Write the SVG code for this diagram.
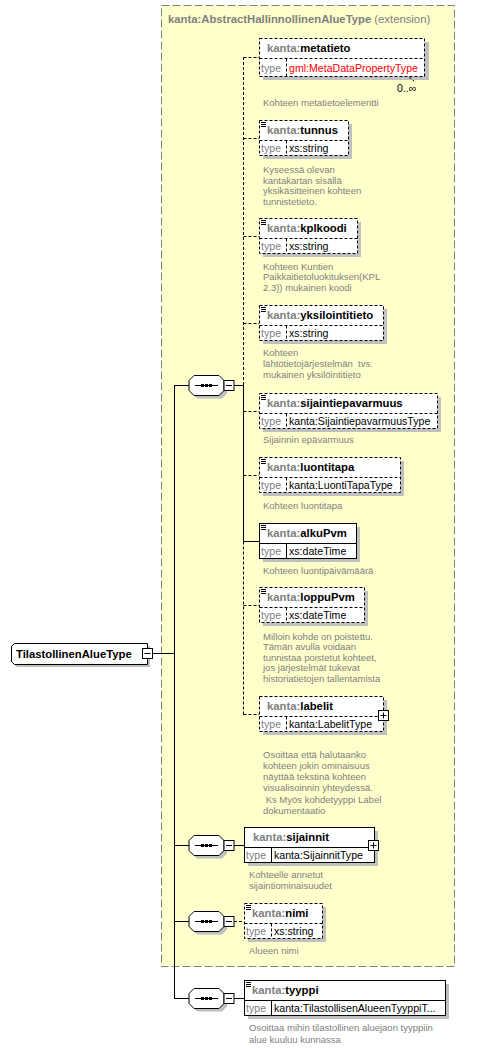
<svg xmlns="http://www.w3.org/2000/svg" width="480" height="1049" viewBox="0 0 480 1049">
<style>
.bg{fill:#fff}
.ext{fill:#FFFFCC;stroke:#808080;stroke-width:1;stroke-dasharray:8,3}
.box{fill:#fff;stroke:#000;stroke-width:1}
.opt{stroke-dasharray:3,2}
.sh{fill:#C0C0C0}
.ln{stroke:#000;stroke-width:1;fill:none}
.dash{stroke-dasharray:3,2}
.nm{font-family:"Liberation Sans",Arial,sans-serif;font-size:11.3px;font-weight:bold;fill:#000}
.ns{fill:#808080}
.ty{font-family:"Liberation Sans",Arial,sans-serif;font-size:10.6px;fill:#000}
.tl{fill:#808080}
.red{fill:#FF0000}
.ds{font-family:"Liberation Sans",Arial,sans-serif;font-size:9.5px;fill:#808080}
.ttl{font-family:"Liberation Sans",Arial,sans-serif;font-size:11.3px;fill:#808080}
</style>
<defs>
<g id="seq">
<polygon class="sh" points="8,3 33,3 38,8 38,18 33,23 8,23 3,18 3,8"/>
<polygon class="box" points="5,0 30,0 35,5 35,15 30,20 5,20 0,15 0,5"/>
<line class="ln" x1="6" y1="10" x2="29" y2="10"/>
<rect x="12" y="8.5" width="3" height="3" fill="#000"/>
<rect x="16" y="8.5" width="3" height="3" fill="#000"/>
<rect x="20" y="8.5" width="3" height="3" fill="#000"/>
<rect class="box" x="35" y="5" width="10" height="10"/>
<line class="ln" x1="37" y1="10" x2="43" y2="10"/>
</g>
<g id="doc">
<line class="ln" x1="0" y1="0.5" x2="5" y2="0.5"/>
<line class="ln" x1="0" y1="2.5" x2="5" y2="2.5"/>
<line class="ln" x1="0" y1="4.5" x2="5" y2="4.5"/>
</g>
<g id="plus">
<rect class="box" x="-5" y="0" width="10" height="10"/>
<line class="ln" x1="-3" y1="5" x2="3" y2="5"/>
<line class="ln" x1="0" y1="2" x2="0" y2="8"/>
</g>
</defs>
<rect class="bg" x="0" y="0" width="480" height="1049"/>

<g id="extension">
<rect class="ext" x="161.5" y="5.5" width="293" height="961"/>
<text class="ttl" x="168" y="23"><tspan font-weight="bold">kanta:AbstractHallinnollinenAlueType</tspan> (extension)</text>
</g>

<g id="connectors">
<line class="ln" x1="152" y1="653.5" x2="174.5" y2="653.5"/>
<line class="ln" x1="174.5" y1="385" x2="174.5" y2="998.5"/>
<line class="ln" x1="174" y1="385.5" x2="189" y2="385.5"/>
<line class="ln" x1="174" y1="845.5" x2="189" y2="845.5"/>
<line class="ln" x1="174" y1="921.5" x2="189" y2="921.5"/>
<line class="ln" x1="174" y1="998.5" x2="189" y2="998.5"/>
<line class="ln" x1="234" y1="385.5" x2="243.5" y2="385.5"/>
<line class="ln dash" x1="243.5" y1="57" x2="243.5" y2="385"/>
<line class="ln" x1="243.5" y1="385" x2="243.5" y2="541.5"/>
<line class="ln dash" x1="243.5" y1="541.5" x2="243.5" y2="714.5"/>
<line class="ln dash" x1="243.5" y1="57.5" x2="259" y2="57.5"/>
<line class="ln dash" x1="243.5" y1="138.5" x2="259" y2="138.5"/>
<line class="ln dash" x1="243.5" y1="236.5" x2="259" y2="236.5"/>
<line class="ln dash" x1="243.5" y1="323.5" x2="259" y2="323.5"/>
<line class="ln dash" x1="243.5" y1="411.5" x2="259" y2="411.5"/>
<line class="ln dash" x1="243.5" y1="475.5" x2="259" y2="475.5"/>
<line class="ln" x1="243.5" y1="541.5" x2="259" y2="541.5"/>
<line class="ln dash" x1="243.5" y1="605.5" x2="259" y2="605.5"/>
<line class="ln dash" x1="243.5" y1="714.5" x2="259" y2="714.5"/>
<line class="ln" x1="234" y1="845.5" x2="244" y2="845.5"/>
<line class="ln dash" x1="234" y1="921.5" x2="244" y2="921.5"/>
<line class="ln" x1="234" y1="998.5" x2="244" y2="998.5"/>
</g>

<g id="root">
<polygon class="sh" points="17,646 150,646 150,667 17,667 14,664 14,649"/>
<polygon class="box" points="14.5,643.5 147.5,643.5 147.5,664.5 14.5,664.5 11.5,661.5 11.5,646.5"/>
<text class="nm" x="16" y="658" font-size="11.5px">TilastollinenAlueType</text>
<rect class="box" x="142.5" y="648.5" width="10" height="10"/>
<line class="ln" x1="144.5" y1="653.5" x2="150.5" y2="653.5"/>
</g>

<g id="seq1"><use href="#seq" x="189" y="375.5"/></g>
<g id="seq2"><use href="#seq" x="189" y="835.5"/></g>
<g id="seq3"><use href="#seq" x="189" y="911.5"/></g>
<g id="seq4"><use href="#seq" x="189" y="988.5"/></g>

<g id="metatieto">
<rect class="sh" x="263" y="42" width="166" height="38"/>
<rect class="box opt" x="259.5" y="38.5" width="165" height="38"/>
<line class="ln opt" x1="259.5" y1="58.5" x2="424.5" y2="58.5"/>
<line class="ln opt" x1="286.5" y1="58.5" x2="286.5" y2="76.5"/>
<line class="ln opt" x1="409" y1="77" x2="414" y2="81"/>
<text class="nm" x="267" y="52"><tspan class="ns">kanta:</tspan>metatieto</text>
<text class="ty" x="261" y="72"><tspan class="tl">type</tspan></text>
<text class="ty red" x="289" y="72">gml:MetaDataPropertyType</text>
<text class="ty" x="397" y="92">0..∞</text>
<text class="ds" x="263" y="106">Kohteen metatietoelementti</text>
</g>

<g id="tunnus">
<rect class="sh" x="263" y="124" width="89" height="35"/>
<rect class="box opt" x="259.5" y="120.5" width="89" height="35"/>
<line class="ln opt" x1="259.5" y1="140.5" x2="348.5" y2="140.5"/>
<line class="ln opt" x1="286.5" y1="140.5" x2="286.5" y2="155.5"/>
<use href="#doc" x="261" y="122"/>
<text class="nm" x="267" y="134"><tspan class="ns">kanta:</tspan>tunnus</text>
<text class="ty" x="261" y="152"><tspan class="tl">type</tspan></text>
<text class="ty" x="289" y="152">xs:string</text>
<text class="ds" x="263" y="173">Kyseessä olevan</text>
<text class="ds" x="263" y="183.5">kantakartan sisällä</text>
<text class="ds" x="263" y="194">yksikäsitteinen kohteen</text>
<text class="ds" x="263" y="204.5">tunnistetieto.</text>
</g>

<g id="kplkoodi">
<rect class="sh" x="263" y="222" width="98" height="35"/>
<rect class="box opt" x="259.5" y="218.5" width="98" height="35"/>
<line class="ln opt" x1="259.5" y1="238.5" x2="357.5" y2="238.5"/>
<line class="ln opt" x1="286.5" y1="238.5" x2="286.5" y2="253.5"/>
<use href="#doc" x="261" y="220"/>
<text class="nm" x="267" y="232"><tspan class="ns">kanta:</tspan>kplkoodi</text>
<text class="ty" x="261" y="250"><tspan class="tl">type</tspan></text>
<text class="ty" x="289" y="250">xs:string</text>
<text class="ds" x="263" y="269.5">Kohteen Kuntien</text>
<text class="ds" x="263" y="280">Paikkaitietoluokituksen(KPL</text>
<text class="ds" x="263" y="290.5">2.3)) mukainen koodi</text>
</g>

<g id="yksilointitieto">
<rect class="sh" x="263" y="309" width="124" height="35"/>
<rect class="box opt" x="259.5" y="305.5" width="124" height="35"/>
<line class="ln opt" x1="259.5" y1="325.5" x2="383.5" y2="325.5"/>
<line class="ln opt" x1="286.5" y1="325.5" x2="286.5" y2="340.5"/>
<use href="#doc" x="261" y="307"/>
<text class="nm" x="267" y="319"><tspan class="ns">kanta:</tspan>yksilointitieto</text>
<text class="ty" x="261" y="337"><tspan class="tl">type</tspan></text>
<text class="ty" x="289" y="337">xs:string</text>
<text class="ds" x="263" y="356">Kohteen</text>
<text class="ds" x="263" y="367" xml:space="preserve">lähtötietojärjestelmän  tvs.</text>
<text class="ds" x="263" y="378">mukainen yksilöintitieto</text>
</g>

<g id="sijaintiepavarmuus">
<rect class="sh" x="263" y="397" width="178" height="35"/>
<rect class="box opt" x="259.5" y="393.5" width="178" height="35"/>
<line class="ln opt" x1="259.5" y1="413.5" x2="437.5" y2="413.5"/>
<line class="ln opt" x1="286.5" y1="413.5" x2="286.5" y2="428.5"/>
<use href="#doc" x="261" y="395"/>
<text class="nm" x="267" y="407"><tspan class="ns">kanta:</tspan>sijaintiepavarmuus</text>
<text class="ty" x="261" y="425"><tspan class="tl">type</tspan></text>
<text class="ty" x="289" y="425">kanta:SijaintiepavarmuusType</text>
<text class="ds" x="263" y="443">Sijainnin epävarmuus</text>
</g>

<g id="luontitapa">
<rect class="sh" x="263" y="461" width="141" height="35"/>
<rect class="box opt" x="259.5" y="457.5" width="141" height="35"/>
<line class="ln opt" x1="259.5" y1="477.5" x2="400.5" y2="477.5"/>
<line class="ln opt" x1="286.5" y1="477.5" x2="286.5" y2="492.5"/>
<use href="#doc" x="261" y="459"/>
<text class="nm" x="267" y="471"><tspan class="ns">kanta:</tspan>luontitapa</text>
<text class="ty" x="261" y="489"><tspan class="tl">type</tspan></text>
<text class="ty" x="289" y="489">kanta:LuontiTapaType</text>
<text class="ds" x="263" y="508.5">Kohteen luontitapa</text>
</g>

<g id="alkuPvm">
<rect class="sh" x="263" y="527" width="97" height="35"/>
<rect class="box" x="259.5" y="523.5" width="97" height="35"/>
<line class="ln" x1="259.5" y1="543.5" x2="356.5" y2="543.5"/>
<line class="ln" x1="286.5" y1="543.5" x2="286.5" y2="558.5"/>
<use href="#doc" x="261" y="525"/>
<text class="nm" x="267" y="537"><tspan class="ns">kanta:</tspan>alkuPvm</text>
<text class="ty" x="261" y="555"><tspan class="tl">type</tspan></text>
<text class="ty" x="289" y="555">xs:dateTime</text>
<text class="ds" x="263" y="573.5">Kohteen luontipäivämäärä</text>
</g>

<g id="loppuPvm">
<rect class="sh" x="263" y="591" width="105" height="35"/>
<rect class="box opt" x="259.5" y="587.5" width="105" height="35"/>
<line class="ln opt" x1="259.5" y1="607.5" x2="364.5" y2="607.5"/>
<line class="ln opt" x1="286.5" y1="607.5" x2="286.5" y2="622.5"/>
<use href="#doc" x="261" y="589"/>
<text class="nm" x="267" y="601"><tspan class="ns">kanta:</tspan>loppuPvm</text>
<text class="ty" x="261" y="619"><tspan class="tl">type</tspan></text>
<text class="ty" x="289" y="619">xs:dateTime</text>
<text class="ds" x="263" y="639.5">Milloin kohde on poistettu.</text>
<text class="ds" x="263" y="650">Tämän avulla voidaan</text>
<text class="ds" x="263" y="660.5">tunnistaa poistetut kohteet,</text>
<text class="ds" x="263" y="671">jos järjestelmät tukevat</text>
<text class="ds" x="263" y="681.5">historiatietojen tallentamista</text>
</g>

<g id="labelit">
<rect class="sh" x="263" y="700" width="124" height="35"/>
<rect class="box opt" x="259.5" y="696.5" width="124" height="35"/>
<line class="ln opt" x1="259.5" y1="716.5" x2="383.5" y2="716.5"/>
<line class="ln opt" x1="286.5" y1="716.5" x2="286.5" y2="731.5"/>
<text class="nm" x="267" y="710"><tspan class="ns">kanta:</tspan>labelit</text>
<text class="ty" x="261" y="728"><tspan class="tl">type</tspan></text>
<text class="ty" x="289" y="728">kanta:LabelitType</text>
<use href="#plus" x="383.5" y="710.5"/>
<text class="ds" x="263" y="757.5">Osoittaa että halutaanko</text>
<text class="ds" x="263" y="768.5">kohteen jokin ominaisuus</text>
<text class="ds" x="263" y="780">näyttää tekstinä kohteen</text>
<text class="ds" x="263" y="791">visualisoinnin yhteydessä.</text>
<text class="ds" x="263" y="802.5" xml:space="preserve"> Ks Myös kohdetyyppi Label</text>
<text class="ds" x="263" y="813.5">dokumentaatio</text>
</g>

<g id="sijainnit">
<rect class="sh" x="248" y="831" width="130" height="35"/>
<rect class="box" x="244.5" y="827.5" width="130" height="35"/>
<line class="ln" x1="244.5" y1="847.5" x2="374.5" y2="847.5"/>
<line class="ln" x1="271.5" y1="847.5" x2="271.5" y2="862.5"/>
<text class="nm" x="253" y="841"><tspan class="ns">kanta:</tspan>sijainnit</text>
<text class="ty" x="246" y="859"><tspan class="tl">type</tspan></text>
<text class="ty" x="274" y="859">kanta:SijainnitType</text>
<use href="#plus" x="373.5" y="840.5"/>
<text class="ds" x="249" y="877.5">Kohteelle annetut</text>
<text class="ds" x="249" y="889">sijaintiominaisuudet</text>
</g>

<g id="nimi">
<rect class="sh" x="248" y="907" width="78" height="35"/>
<rect class="box opt" x="244.5" y="903.5" width="78" height="35"/>
<line class="ln opt" x1="244.5" y1="923.5" x2="322.5" y2="923.5"/>
<line class="ln opt" x1="271.5" y1="923.5" x2="271.5" y2="938.5"/>
<use href="#doc" x="246" y="905"/>
<text class="nm" x="252" y="917"><tspan class="ns">kanta:</tspan>nimi</text>
<text class="ty" x="246" y="935"><tspan class="tl">type</tspan></text>
<text class="ty" x="274" y="935">xs:string</text>
<text class="ds" x="249" y="953.5">Alueen nimi</text>
</g>

<g id="tyyppi">
<rect class="sh" x="248" y="984" width="201" height="35"/>
<rect class="box" x="244.5" y="980.5" width="201" height="35"/>
<line class="ln" x1="244.5" y1="1000.5" x2="445.5" y2="1000.5"/>
<line class="ln" x1="271.5" y1="1000.5" x2="271.5" y2="1015.5"/>
<use href="#doc" x="246" y="982"/>
<text class="nm" x="252" y="994"><tspan class="ns">kanta:</tspan>tyyppi</text>
<text class="ty" x="246" y="1012"><tspan class="tl">type</tspan></text>
<text class="ty" x="274" y="1012">kanta:TilastollisenAlueenTyyppiT...</text>
<text class="ds" x="249" y="1031">Osoittaa mihin tilastollinen aluejaon tyyppiin</text>
<text class="ds" x="249" y="1042.5">alue kuuluu kunnassa</text>
</g>
</svg>
